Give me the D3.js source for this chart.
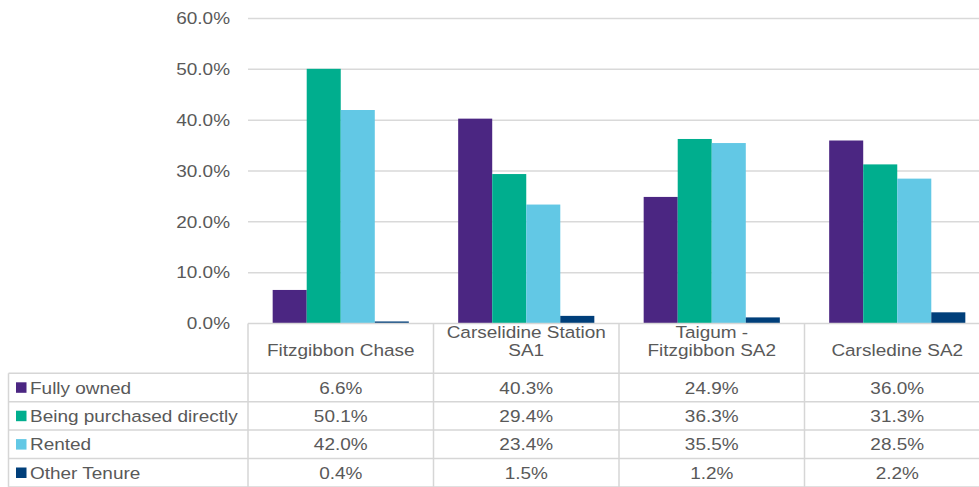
<!DOCTYPE html>
<html>
<head>
<meta charset="utf-8">
<script src="https://cdn.jsdelivr.net/npm/d3@7"></script>
<style>
  html, body { margin: 0; padding: 0; background: #fff; }
  svg { display: block; }
  text { font-family: "Liberation Sans", Arial, sans-serif; fill: #595959; }
</style>
</head>
<body>
<svg id="chart" width="979" height="487"></svg>
<script>
// Housing tenure by area (share of dwellings)
const categories = [
  ["Fitzgibbon Chase"],
  ["Carselidine Station", "SA1"],
  ["Taigum -", "Fitzgibbon SA2"],
  ["Carsledine SA2"]
];
const seriesNames = ["Fully owned", "Being purchased directly", "Rented", "Other Tenure"];
const seriesColors = ["#4b2682", "#00ae8e", "#62c8e5", "#003f7a"];
const fullyOwned = [6.6, 40.3, 24.9, 36.0];
const beingPurchased = [50.1, 29.4, 36.3, 31.3];
const rented = [42.0, 23.4, 35.5, 28.5];
const otherTenure = [0.4, 1.5, 1.2, 2.2];
const yTicks = [0, 10, 20, 30, 40, 50, 60];

const seriesValues = [fullyOwned, beingPurchased, rented, otherTenure];

const svg = d3.select("#chart");

const plotLeft = 248, plotRight = 990;
const plotTop = 18.5, plotBottom = 323.5;
const tableLeft = 8.5;
const headerBottom = 373.3;
const rowH = 28.4;
const fontSize = "16.5px";
const stretch = 1.15; // labels are set slightly wide

// place a text label at (px, py) with the horizontal stretch applied
function label(parent, px, py, str, anchor) {
  return parent.append("text")
    .attr("transform", `translate(${px},${py}) scale(${stretch},1)`)
    .attr("text-anchor", anchor || "start")
    .attr("font-size", fontSize)
    .text(str);
}

const x = d3.scaleBand()
  .domain(d3.range(categories.length))
  .range([plotLeft, plotRight])
  .paddingInner(0).paddingOuter(0);

const y = d3.scaleLinear().domain([0, 60]).range([plotBottom, plotTop]);

const groupW = x.bandwidth() * 0.734;
const xs = d3.scaleBand()
  .domain(d3.range(seriesNames.length))
  .range([0, groupW])
  .padding(0);

// gridlines
svg.append("g")
  .selectAll("line")
  .data(yTicks.filter(d => d > 0))
  .join("line")
  .attr("x1", plotLeft).attr("x2", plotRight)
  .attr("y1", d => y(d)).attr("y2", d => y(d))
  .attr("stroke", "#d9d9d9").attr("stroke-width", 1.5);

// y axis labels
const yAxis = d3.axisLeft(y).tickValues(yTicks)
  .tickFormat(d => d.toFixed(1) + "%").tickSize(0).tickPadding(0);
const yg = svg.append("g").attr("transform", `translate(${plotLeft - 18},0)`).call(yAxis);
yg.select(".domain").remove();
yg.selectAll("text")
  .attr("font-size", fontSize)
  .attr("fill", "#595959")
  .attr("transform", `scale(${stretch},1)`)
  .style("font-family", "'Liberation Sans', Arial, sans-serif");

// bars
const groups = svg.append("g")
  .selectAll("g")
  .data(categories.map((c, i) => i))
  .join("g")
  .attr("transform", i => `translate(${x(i) + (x.bandwidth() - groupW) / 2},0)`);

groups.selectAll("rect")
  .data(i => seriesValues.map((vals, s) => ({ s, v: vals[i] })))
  .join("rect")
  .attr("x", d => xs(d.s))
  .attr("width", xs.bandwidth())
  .attr("y", d => y(d.v))
  .attr("height", d => y(0) - y(d.v))
  .attr("fill", d => seriesColors[d.s]);

// data table
const tbl = svg.append("g");
const lineColor = "#d6d6d6";

// horizontal lines of the table
const hLines = [plotBottom, headerBottom];
for (let r = 1; r <= seriesNames.length; r++) hLines.push(headerBottom + r * rowH);
hLines.forEach((yy, k) => {
  tbl.append("line")
    .attr("x1", k === 0 ? plotLeft : tableLeft).attr("x2", plotRight)
    .attr("y1", yy).attr("y2", yy)
    .attr("stroke", lineColor).attr("stroke-width", 1.5);
});

// vertical lines of the table
const vXs = [plotLeft];
categories.forEach((c, i) => vXs.push(x(i) + x.bandwidth()));
vXs.forEach(xx => {
  tbl.append("line")
    .attr("x1", xx).attr("x2", xx)
    .attr("y1", plotBottom).attr("y2", headerBottom + seriesNames.length * rowH)
    .attr("stroke", lineColor).attr("stroke-width", 1.5);
});
tbl.append("line")
  .attr("x1", tableLeft).attr("x2", tableLeft)
  .attr("y1", headerBottom).attr("y2", headerBottom + seriesNames.length * rowH)
  .attr("stroke", lineColor).attr("stroke-width", 1.5);

// header: category names, bottom-aligned within the header cell
categories.forEach((lines, i) => {
  const cx = x(i) + x.bandwidth() / 2;
  const lastBase = headerBottom - 17.5;
  const lh = 18;
  lines.forEach((ln, k) => {
    label(tbl, cx, lastBase - (lines.length - 1 - k) * lh, ln, "middle");
  });
});

// rows: legend key + values
seriesNames.forEach((name, s) => {
  const rowMid = headerBottom + s * rowH + rowH / 2;
  tbl.append("rect")
    .attr("x", 16).attr("y", rowMid - 5.2)
    .attr("width", 10.5).attr("height", 10.5)
    .attr("fill", seriesColors[s]);
  label(tbl, 30, rowMid + 6, name, "start");
  seriesValues[s].forEach((v, i) => {
    label(tbl, x(i) + x.bandwidth() / 2, rowMid + 6, v.toFixed(1) + "%", "middle");
  });
});
</script>
</body>
</html>
